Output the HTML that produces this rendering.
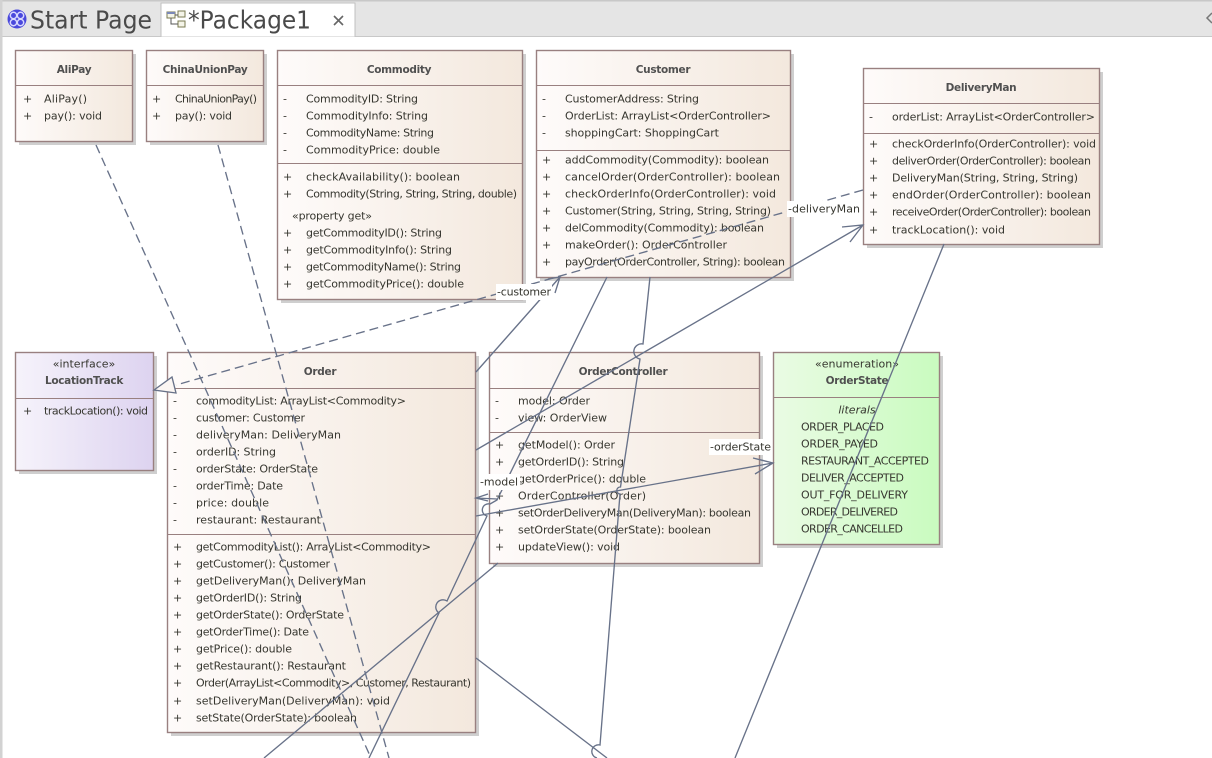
<!DOCTYPE html>
<html><head><meta charset="utf-8"><style>
html,body{margin:0;padding:0;background:#fff}
svg{display:block}
text{font-family:"DejaVu Sans",sans-serif;font-size:11px;fill:#36362f;dominant-baseline:central}
.t{font-weight:bold;font-size:10.5px;letter-spacing:-.3px;text-anchor:middle;fill:#505050}
.c{text-anchor:middle}
.b{stroke:#998080;stroke-width:1.4}
.d{stroke:#998080;stroke-width:1.1}
.s{fill:#cfcfcf}
.l{fill:none;stroke:#687289;stroke-width:1.35}
.da{stroke-dasharray:9 5}
.lb{fill:#fff}
.tab{font-size:25px;fill:#4a4a4a}
</style></head><body>
<svg width="1212" height="758" viewBox="0 0 1212 758" xmlns="http://www.w3.org/2000/svg">
<defs>
<linearGradient id="g1"><stop offset="0" stop-color="#fefbfa"/><stop offset="1" stop-color="#f3e8dd"/></linearGradient>
<linearGradient id="g2"><stop offset="0" stop-color="#f6f3fb"/><stop offset="1" stop-color="#ddd3f0"/></linearGradient>
<linearGradient id="g3"><stop offset="0" stop-color="#eafbe4"/><stop offset="1" stop-color="#c9fbbf"/></linearGradient>
</defs>
<rect width="1212" height="758" fill="#fff"/>
<rect x="0" y="0" width="1212" height="36" fill="#e5e5e5"/>
<rect x="0" y="0" width="1212" height="1.5" fill="#c8c8c8"/>
<rect x="0" y="36" width="1212" height="1" fill="#c8c8c8"/>
<rect x="0" y="0" width="2.5" height="758" fill="#d2d2d2"/>
<path d="M161,36.5V3H355V36.5" fill="#fff" stroke="#c0c0c0"/>
<circle cx="17" cy="19" r="9.5" fill="#4a48dc"/>
<circle cx="13.5" cy="15.5" r="3.2" fill="none" stroke="#d8d8ff" stroke-width="1.5"/>
<circle cx="20.5" cy="15.5" r="3.2" fill="none" stroke="#d8d8ff" stroke-width="1.5"/>
<circle cx="13.5" cy="22.5" r="3.2" fill="none" stroke="#d8d8ff" stroke-width="1.5"/>
<circle cx="20.5" cy="22.5" r="3.2" fill="none" stroke="#d8d8ff" stroke-width="1.5"/>
<text class="tab" x="30" y="20" textLength="122" lengthAdjust="spacingAndGlyphs">Start Page</text>
<rect x="167" y="12" width="8" height="6" fill="#f4f4e8" stroke="#7a7a50"/>
<rect x="167" y="12" width="8" height="2" fill="#7a88b8"/>
<rect x="178" y="11" width="7" height="6" fill="#f4f4e8" stroke="#7a7a50"/>
<rect x="178" y="21" width="7" height="6" fill="#f4f4e8" stroke="#7a7a50"/>
<path d="M171,18V24H178M175,15H178" fill="none" stroke="#555"/>
<text class="tab" x="188" y="20" textLength="123" lengthAdjust="spacingAndGlyphs">*Package1</text>
<path d="M334,16L343,25M343,16L334,25" stroke="#666" stroke-width="1.6" fill="none"/>
<path d="M1212,13L1207,18L1212,23" fill="none" stroke="#777" stroke-width="1.5"/>

<!-- shadows -->
<rect class="s" x="19" y="54" width="117" height="91"/>
<rect class="s" x="150" y="54" width="117" height="91"/>
<rect class="s" x="281" y="54" width="245" height="249"/>
<rect class="s" x="540" y="54" width="254" height="227"/>
<rect class="s" x="867" y="72" width="236" height="176"/>
<rect class="s" x="19" y="356" width="138" height="118"/>
<rect class="s" x="171" y="356" width="308" height="380"/>
<rect class="s" x="493" y="356" width="270" height="211"/>
<rect class="s" x="777" y="356" width="166" height="192"/>

<!-- AliPay -->
<rect class="b" x="15.5" y="50.5" width="117" height="91" fill="url(#g1)"/>
<path class="d" d="M15.5,85.5H132.5"/>
<text class="t" x="74" y="70">AliPay</text>
<text x="23" y="99">+</text><text x="44" y="99" textLength="43">AliPay()</text>
<text x="23" y="116">+</text><text x="44" y="116" textLength="58">pay(): void</text>

<!-- ChinaUnionPay -->
<rect class="b" x="146.5" y="50.5" width="117" height="91" fill="url(#g1)"/>
<path class="d" d="M146.5,85.5H263.5"/>
<text class="t" x="205" y="70">ChinaUnionPay</text>
<text x="152" y="99">+</text><text x="175" y="99" textLength="82">ChinaUnionPay()</text>
<text x="152" y="116">+</text><text x="175" y="116" textLength="57">pay(): void</text>

<!-- Commodity -->
<rect class="b" x="277.5" y="50.5" width="245" height="249" fill="url(#g1)"/>
<path class="d" d="M277.5,85.5H522.5M277.5,163.5H522.5"/>
<text class="t" x="399" y="70">Commodity</text>
<text x="283" y="99">-</text><text x="306" y="99" textLength="112">CommodityID: String</text>
<text x="283" y="116">-</text><text x="306" y="116" textLength="122">CommodityInfo: String</text>
<text x="283" y="133">-</text><text x="306" y="133" textLength="128">CommodityName: String</text>
<text x="283" y="150">-</text><text x="306" y="150" textLength="134">CommodityPrice: double</text>
<text x="283" y="177">+</text><text x="306" y="177" textLength="154">checkAvailability(): boolean</text>
<text x="283" y="194">+</text><text x="306" y="194" textLength="211">Commodity(String, String, String, double)</text>
<text x="292" y="216" textLength="80">«property get»</text>
<text x="283" y="233">+</text><text x="306" y="233" textLength="136">getCommodityID(): String</text>
<text x="283" y="250">+</text><text x="306" y="250" textLength="146">getCommodityInfo(): String</text>
<text x="283" y="267">+</text><text x="306" y="267" textLength="155">getCommodityName(): String</text>
<text x="283" y="284">+</text><text x="306" y="284" textLength="158">getCommodityPrice(): double</text>

<!-- Customer -->
<rect class="b" x="536.5" y="50.5" width="254" height="227" fill="url(#g1)"/>
<path class="d" d="M536.5,85.5H790.5M536.5,150.5H790.5"/>
<text class="t" x="663" y="70">Customer</text>
<text x="542" y="99">-</text><text x="565" y="99" textLength="134">CustomerAddress: String</text>
<text x="542" y="116">-</text><text x="565" y="116" textLength="206">OrderList: ArrayList&lt;OrderController&gt;</text>
<text x="542" y="133">-</text><text x="565" y="133" textLength="154">shoppingCart: ShoppingCart</text>
<text x="542" y="160">+</text><text x="565" y="160" textLength="204">addCommodity(Commodity): boolean</text>
<text x="542" y="177">+</text><text x="565" y="177" textLength="215">cancelOrder(OrderController): boolean</text>
<text x="542" y="194">+</text><text x="565" y="194" textLength="211">checkOrderInfo(OrderController): void</text>
<text x="542" y="211">+</text><text x="565" y="211" textLength="206">Customer(String, String, String, String)</text>
<text x="542" y="228">+</text><text x="565" y="228" textLength="199">delCommodity(Commodity): boolean</text>
<text x="542" y="245">+</text><text x="565" y="245" textLength="162">makeOrder(): OrderController</text>
<text x="542" y="262">+</text><text x="565" y="262" textLength="220">payOrder(OrderController, String): boolean</text>

<!-- DeliveryMan -->
<rect class="b" x="863.5" y="68.5" width="236" height="176" fill="url(#g1)"/>
<path class="d" d="M863.5,103.5H1099.5M863.5,133.5H1099.5"/>
<text class="t" x="981" y="88">DeliveryMan</text>
<text x="869" y="117">-</text><text x="892" y="117" textLength="203">orderList: ArrayList&lt;OrderController&gt;</text>
<text x="869" y="144">+</text><text x="892" y="144" textLength="204">checkOrderInfo(OrderController): void</text>
<text x="869" y="161">+</text><text x="892" y="161" textLength="199">deliverOrder(OrderController): boolean</text>
<text x="869" y="178">+</text><text x="892" y="178" textLength="186">DeliveryMan(String, String, String)</text>
<text x="869" y="195">+</text><text x="892" y="195" textLength="199">endOrder(OrderController): boolean</text>
<text x="869" y="212">+</text><text x="892" y="212" textLength="199">receiveOrder(OrderController): boolean</text>
<text x="869" y="230">+</text><text x="892" y="230" textLength="113">trackLocation(): void</text>

<!-- LocationTrack -->
<rect class="b" x="15.5" y="352.5" width="138" height="118" fill="url(#g2)"/>
<path class="d" d="M15.5,398.5H153.5"/>
<text class="c" x="84" y="364">«interface»</text>
<text class="t" x="84" y="381">LocationTrack</text>
<text x="23" y="411">+</text><text x="44" y="411" textLength="104">trackLocation(): void</text>

<!-- Order -->
<rect class="b" x="167.5" y="352.5" width="308" height="380" fill="url(#g1)"/>
<path class="d" d="M167.5,388.5H475.5M167.5,534.5H475.5"/>
<text class="t" x="320" y="372">Order</text>
<text x="173" y="401">-</text><text x="196" y="401" textLength="210">commodityList: ArrayList&lt;Commodity&gt;</text>
<text x="173" y="418">-</text><text x="196" y="418" textLength="109">customer: Customer</text>
<text x="173" y="435">-</text><text x="196" y="435" textLength="145">deliveryMan: DeliveryMan</text>
<text x="173" y="452">-</text><text x="196" y="452" textLength="80">orderID: String</text>
<text x="173" y="469">-</text><text x="196" y="469" textLength="122">orderState: OrderState</text>
<text x="173" y="486">-</text><text x="196" y="486" textLength="87">orderTime: Date</text>
<text x="173" y="503">-</text><text x="196" y="503" textLength="73">price: double</text>
<text x="173" y="520">-</text><text x="196" y="520" textLength="125">restaurant: Restaurant</text>
<text x="173" y="547">+</text><text x="196" y="547" textLength="235">getCommodityList(): ArrayList&lt;Commodity&gt;</text>
<text x="173" y="564">+</text><text x="196" y="564" textLength="134">getCustomer(): Customer</text>
<text x="173" y="581">+</text><text x="196" y="581" textLength="170">getDeliveryMan(): DeliveryMan</text>
<text x="173" y="598">+</text><text x="196" y="598" textLength="106">getOrderID(): String</text>
<text x="173" y="615">+</text><text x="196" y="615" textLength="148">getOrderState(): OrderState</text>
<text x="173" y="632">+</text><text x="196" y="632" textLength="113">getOrderTime(): Date</text>
<text x="173" y="649">+</text><text x="196" y="649" textLength="96">getPrice(): double</text>
<text x="173" y="666">+</text><text x="196" y="666" textLength="150">getRestaurant(): Restaurant</text>
<text x="173" y="683">+</text><text x="196" y="683" textLength="275">Order(ArrayList&lt;Commodity&gt;, Customer, Restaurant)</text>
<text x="173" y="701">+</text><text x="196" y="701" textLength="194">setDeliveryMan(DeliveryMan): void</text>
<text x="173" y="718">+</text><text x="196" y="718" textLength="161">setState(OrderState): boolean</text>

<!-- OrderController -->
<rect class="b" x="489.5" y="352.5" width="270" height="211" fill="url(#g1)"/>
<path class="d" d="M489.5,388.5H759.5M489.5,432.5H759.5"/>
<text class="t" x="623" y="372">OrderController</text>
<text x="495" y="401">-</text><text x="518" y="401" textLength="72">model: Order</text>
<text x="495" y="418">-</text><text x="518" y="418" textLength="89">view: OrderView</text>
<text x="495" y="445">+</text><text x="518" y="445" textLength="97">getModel(): Order</text>
<text x="495" y="462">+</text><text x="518" y="462" textLength="106">getOrderID(): String</text>
<text x="495" y="479">+</text><text x="518" y="479" textLength="128">getOrderPrice(): double</text>
<text x="495" y="496">+</text><text x="518" y="496" textLength="128">OrderController(Order)</text>
<text x="495" y="513">+</text><text x="518" y="513" textLength="233">setOrderDeliveryMan(DeliveryMan): boolean</text>
<text x="495" y="530">+</text><text x="518" y="530" textLength="193">setOrderState(OrderState): boolean</text>
<text x="495" y="547">+</text><text x="518" y="547" textLength="102">updateView(): void</text>

<!-- OrderState -->
<rect class="b" x="773.5" y="352.5" width="166" height="192" fill="url(#g3)"/>
<path class="d" d="M773.5,397.5H939.5"/>
<text class="c" x="857" y="364">«enumeration»</text>
<text class="t" x="857" y="381">OrderState</text>
<text class="c" x="857" y="410" style="font-style:italic">literals</text>
<text x="801" y="427" textLength="83">ORDER_PLACED</text>
<text x="801" y="444" textLength="77">ORDER_PAYED</text>
<text x="801" y="461" textLength="128">RESTAURANT_ACCEPTED</text>
<text x="801" y="478" textLength="103">DELIVER_ACCEPTED</text>
<text x="801" y="495" textLength="107">OUT_FOR_DELIVERY</text>
<text x="801" y="512" textLength="97">ORDER_DELIVERED</text>
<text x="801" y="529" textLength="102">ORDER_CANCELLED</text>

<!-- connectors -->
<path class="l da" d="M96,145L371,758"/>
<path class="l da" d="M218,145L389,758"/>
<path class="l da" d="M863,190L176,385"/>
<path d="M154,390L172,377L176,393Z" fill="#fbf6f3" stroke="#687289" stroke-width="1.35"/>
<path class="l" d="M476,372L560,277M548,279L560,277L555,293"/>
<path class="l" d="M476,450L863,225M842,227L863,225L850,242"/>
<path class="l" d="M607,277L497,500L490,504A6,6 0 0 0 487,516L447,601A6,6 0 0 0 439,613L369,758"/>
<path class="l" d="M650,277L643,344A5,5 0 0 0 640,359L620.5,487A3.5,3.5 0 0 0 620,494L600,745A6,6 0 0 0 597,758"/>
<path class="l" d="M476,658L607,758"/>
<path class="l" d="M498,563L264,758"/>
<path class="l" d="M497,499L476,498M488,494L476,498L488,501"/>
<path class="l" d="M476,516L773,463M753,458L773,463L755,474"/>
<path class="l" d="M944,244L735,758"/>

<!-- connector labels -->
<rect class="lb" x="496" y="284" width="56" height="16"/>
<text x="497" y="292" textLength="54">-customer</text>
<rect class="lb" x="787" y="201" width="74" height="16"/>
<text x="788" y="209" textLength="72">-deliveryMan</text>
<rect class="lb" x="479" y="474" width="41" height="16"/>
<text x="480" y="482" textLength="38">-model</text>
<rect class="lb" x="709" y="439" width="63" height="16"/>
<text x="710" y="447" textLength="61">-orderState</text>
</svg>
</body></html>
